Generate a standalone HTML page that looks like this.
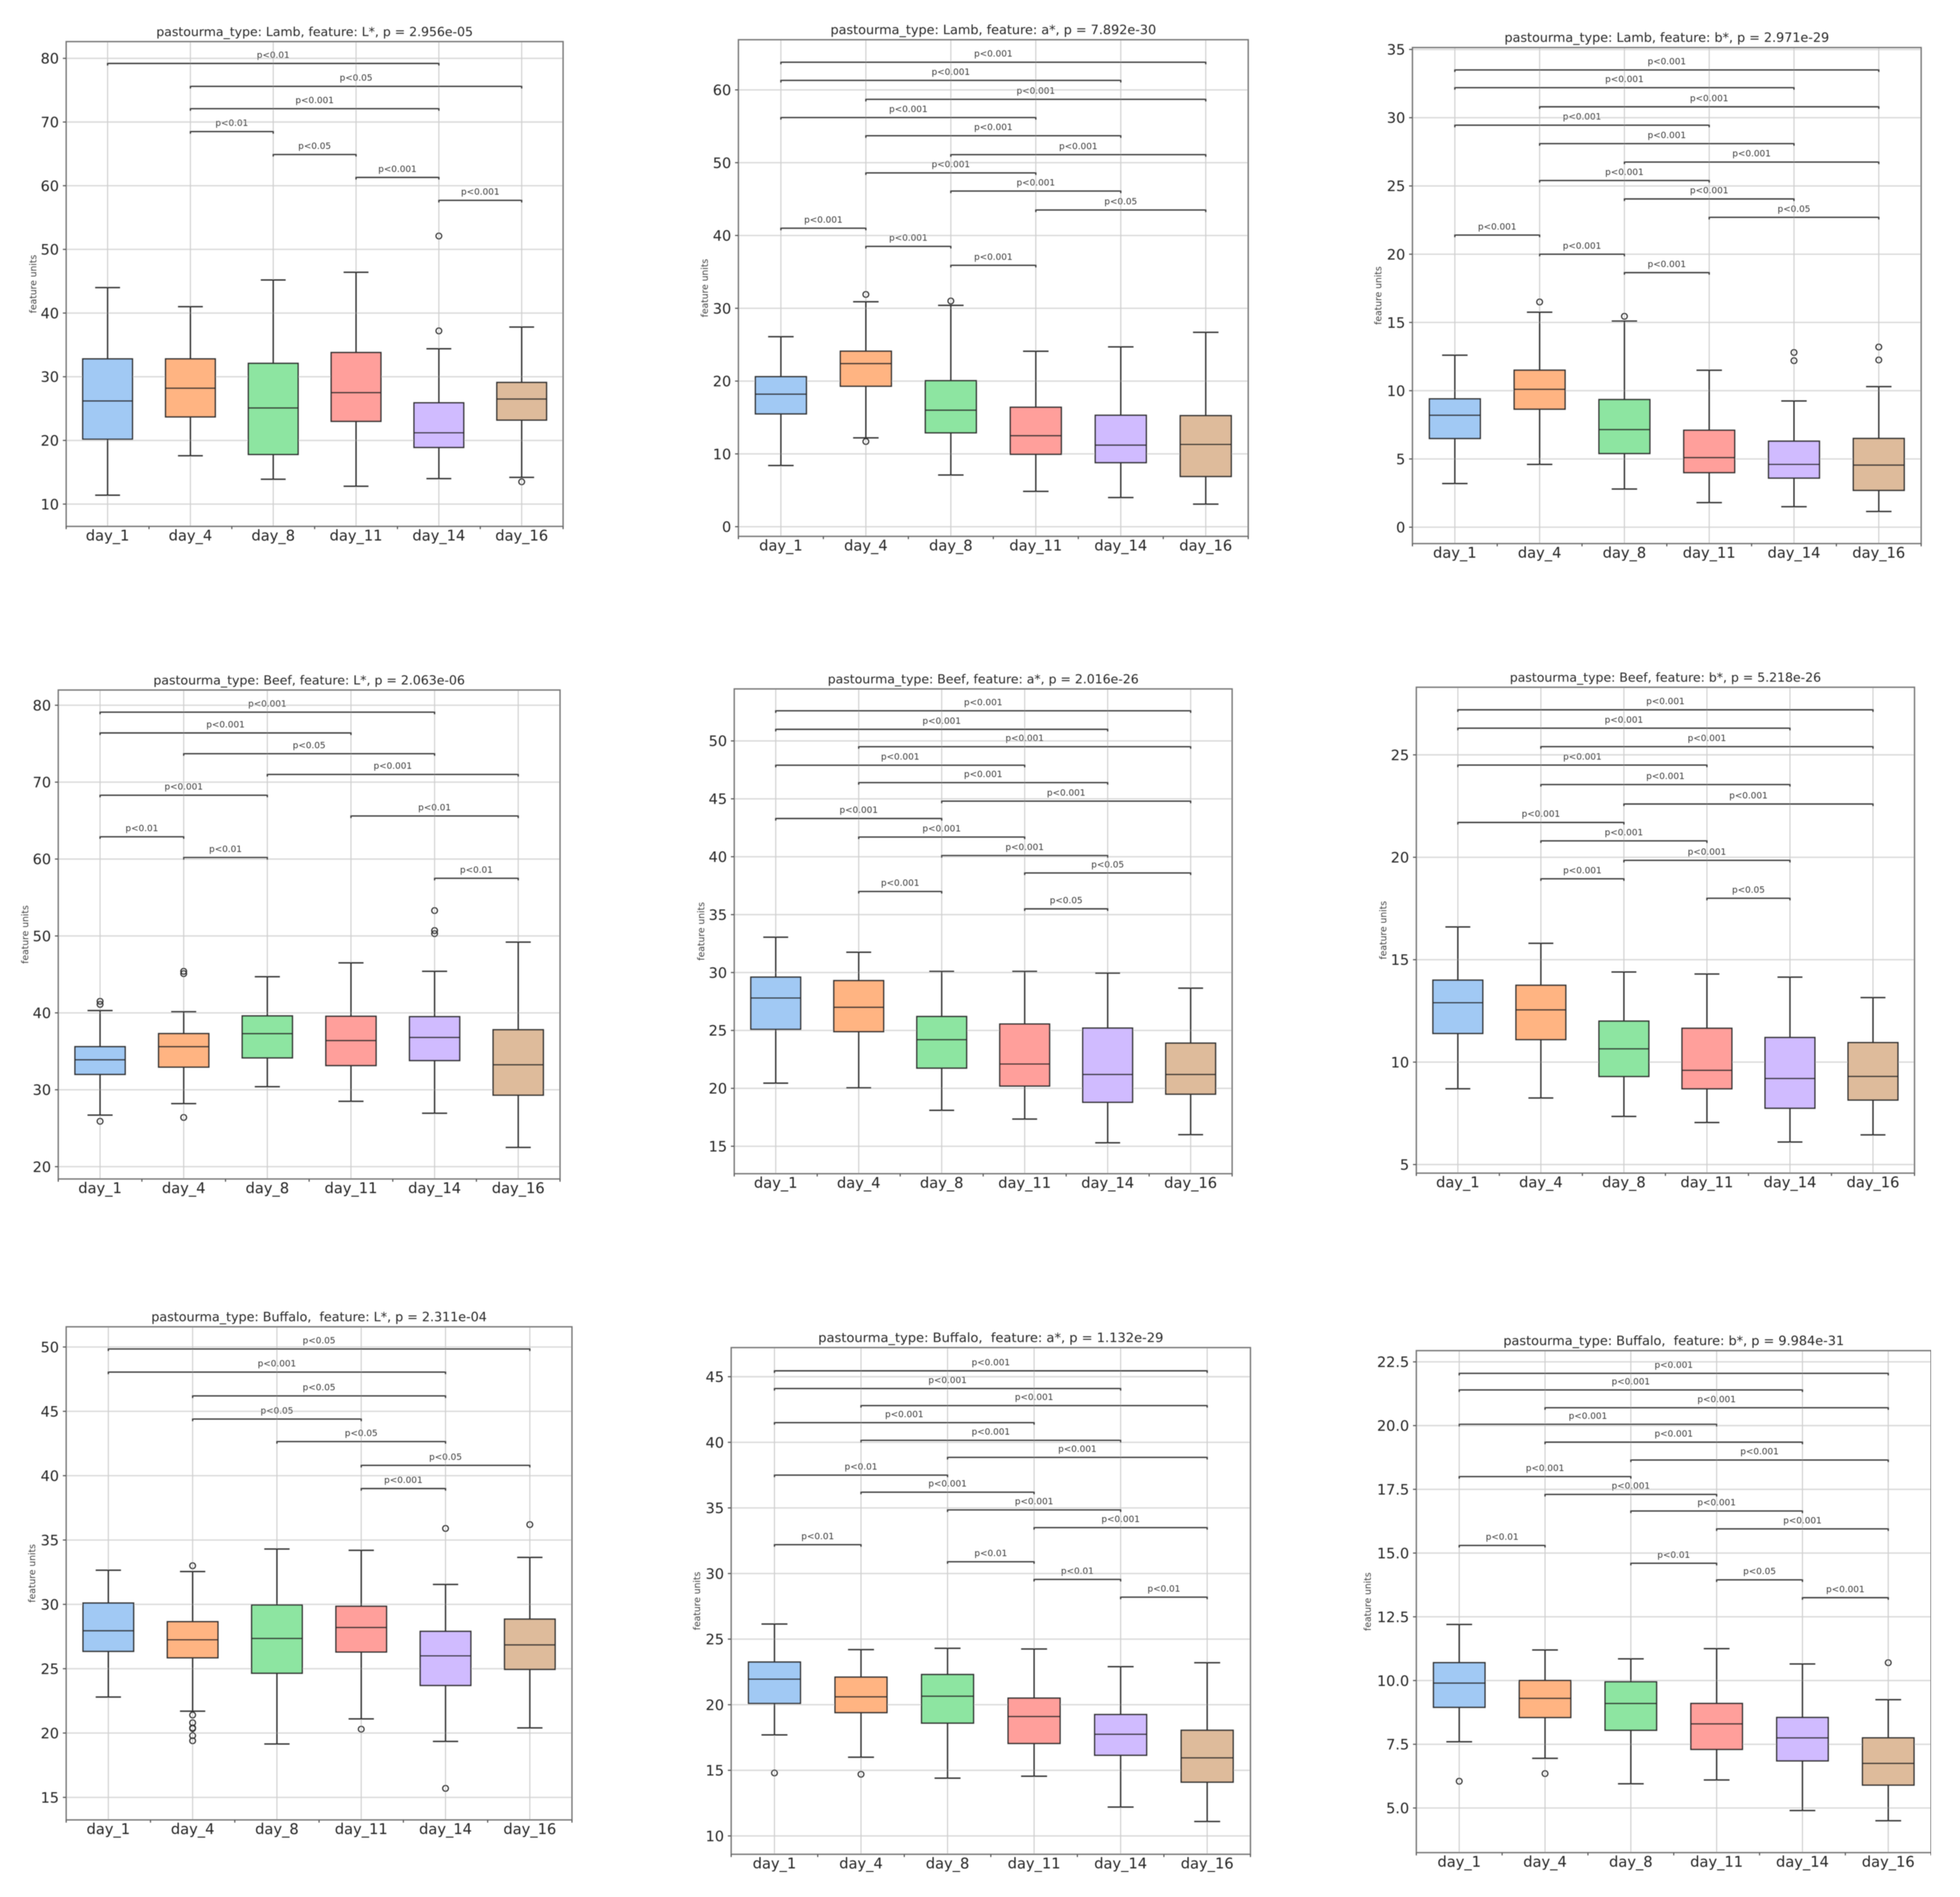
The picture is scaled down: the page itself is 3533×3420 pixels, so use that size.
<!DOCTYPE html>
<html lang="en">
<head>
<meta charset="utf-8">
<title>Pastourma colour features by day</title>
<style>
html,body{margin:0;padding:0;background:#fff;}
svg{display:block;}
text{font-family:"DejaVu Sans","Liberation Sans",sans-serif;}
</style>
</head>
<body>
<svg id="figure" xmlns="http://www.w3.org/2000/svg" width="3533" height="3420" viewBox="0 0 3533 3420">
<defs><filter id="soft" x="0" y="0" width="100%" height="100%"><feGaussianBlur stdDeviation="0.8"/></filter></defs>
<rect x="0" y="0" width="3533" height="3420" fill="#ffffff"/>
<g id="root" filter="url(#soft)"></g>
</svg>
<script>
const categories = ['day_1','day_4','day_8','day_11','day_14','day_16'];
const boxColors = ['#a1c9f4','#ffb482','#8de5a1','#ff9f9b','#d0bbff','#debb9b'];

// Lamb L*
const lambLTicks = ['10','20','30','40','50','60','70','80'];
const lambLLow = [11.4,17.6,13.9,12.8,14.0,14.2];
const lambLQ1 = [20.2,23.7,17.8,23.0,18.9,23.2];
const lambLMedian = [26.2,28.2,25.1,27.5,21.2,26.5];
const lambLQ3 = [32.8,32.8,32.1,33.8,25.9,29.1];
const lambLHigh = [44.0,41.0,45.2,46.4,34.4,37.8];
const lambLOutliers = [[],[],[],[],[37.2,52.1],[13.5]];
const lambLFrom = [0,1,1,1,2,3,4];
const lambLTo = [4,5,4,2,3,4,5];
const lambLLevels = [79.2,75.6,72.1,68.5,64.9,61.3,57.7];
const lambLSig = ['p<0.01','p<0.05','p<0.001','p<0.01','p<0.05','p<0.001','p<0.001'];

// Lamb a*
const lambATicks = ['0','10','20','30','40','50','60'];
const lambALow = [8.4,12.2,7.1,4.85,4.0,3.1];
const lambAQ1 = [15.5,19.3,12.9,9.95,8.8,6.9];
const lambAMedian = [18.2,22.4,16.0,12.5,11.2,11.3];
const lambAQ3 = [20.6,24.1,20.05,16.4,15.3,15.25];
const lambAHigh = [26.1,30.9,30.4,24.1,24.7,26.7];
const lambAOutliers = [[],[31.9,11.7],[31.0],[],[],[]];
const lambAFrom = [0,0,1,0,1,2,1,2,3,0,1,2];
const lambATo = [5,4,5,3,4,5,3,4,5,1,2,3];
const lambALevels = [63.8,61.3,58.7,56.2,53.7,51.1,48.6,46.1,43.5,41.0,38.5,35.9];
const lambASig = ['p<0.001','p<0.001','p<0.001','p<0.001','p<0.001','p<0.001','p<0.001','p<0.001','p<0.05','p<0.001','p<0.001','p<0.001'];

// Lamb b*
const lambBTicks = ['0','5','10','15','20','25','30','35'];
const lambBLow = [3.2,4.6,2.8,1.8,1.5,1.15];
const lambBQ1 = [6.5,8.65,5.4,4.0,3.6,2.7];
const lambBMedian = [8.2,10.1,7.15,5.1,4.6,4.55];
const lambBQ3 = [9.4,11.5,9.35,7.1,6.3,6.5];
const lambBHigh = [12.6,15.75,15.1,11.5,9.25,10.3];
const lambBOutliers = [[],[16.5],[15.45],[],[12.8,12.2],[13.2,12.25]];
const lambBFrom = [0,0,1,0,1,2,1,2,3,0,1,2];
const lambBTo = [5,4,5,3,4,5,3,4,5,1,2,3];
const lambBLevels = [33.5,32.2,30.8,29.45,28.1,26.75,25.4,24.05,22.7,21.4,20.0,18.65];
const lambBSig = ['p<0.001','p<0.001','p<0.001','p<0.001','p<0.001','p<0.001','p<0.001','p<0.001','p<0.05','p<0.001','p<0.001','p<0.001'];

// Beef L*
const beefLTicks = ['20','30','40','50','60','70','80'];
const beefLLow = [26.7,28.2,30.4,28.5,26.95,22.5];
const beefLQ1 = [32.0,32.95,34.15,33.15,33.8,29.3];
const beefLMedian = [33.9,35.6,37.3,36.4,36.8,33.25];
const beefLQ3 = [35.6,37.3,39.6,39.55,39.5,37.8];
const beefLHigh = [40.3,40.15,44.7,46.5,45.4,49.2];
const beefLOutliers = [[41.5,41.1,25.9],[45.4,45.1,26.4],[],[],[53.3,50.7,50.3],[]];
const beefLFrom = [0,0,1,2,0,3,0,1,4];
const beefLTo = [4,3,4,5,2,5,1,2,5];
const beefLLevels = [79.1,76.4,73.7,71.0,68.3,65.6,62.9,60.2,57.5];
const beefLSig = ['p<0.001','p<0.001','p<0.05','p<0.001','p<0.001','p<0.01','p<0.01','p<0.01','p<0.01'];

// Beef a*
const beefATicks = ['15','20','25','30','35','40','45','50'];
const beefALow = [20.45,20.05,18.1,17.35,15.3,16.0];
const beefAQ1 = [25.1,24.9,21.75,20.2,18.8,19.5];
const beefAMedian = [27.8,27.0,24.2,22.1,21.2,21.2];
const beefAQ3 = [29.6,29.3,26.2,25.55,25.2,23.9];
const beefAHigh = [33.05,31.75,30.1,30.1,29.95,28.65];
const beefAOutliers = [[],[],[],[],[],[]];
const beefAFrom = [0,0,1,0,1,2,0,1,2,3,1,3];
const beefATo = [5,4,5,3,4,5,2,3,4,5,2,4];
const beefALevels = [52.6,51.0,49.5,47.9,46.4,44.8,43.3,41.7,40.1,38.6,37.0,35.5];
const beefASig = ['p<0.001','p<0.001','p<0.001','p<0.001','p<0.001','p<0.001','p<0.001','p<0.001','p<0.001','p<0.05','p<0.001','p<0.05'];

// Beef b*
const beefBTicks = ['5','10','15','20','25'];
const beefBLow = [8.7,8.25,7.35,7.05,6.1,6.45];
const beefBQ1 = [11.4,11.1,9.3,8.7,7.75,8.15];
const beefBMedian = [12.9,12.55,10.65,9.6,9.2,9.3];
const beefBQ3 = [14.0,13.75,12.0,11.65,11.2,10.95];
const beefBHigh = [16.6,15.8,14.4,14.3,14.15,13.15];
const beefBOutliers = [[],[],[],[],[],[]];
const beefBFrom = [0,0,1,0,1,2,0,1,2,1,3];
const beefBTo = [5,4,5,3,4,5,2,3,4,2,4];
const beefBLevels = [27.2,26.3,25.4,24.5,23.55,22.6,21.7,20.8,19.85,18.95,18.0];
const beefBSig = ['p<0.001','p<0.001','p<0.001','p<0.001','p<0.001','p<0.001','p<0.001','p<0.001','p<0.001','p<0.001','p<0.05'];

// Buffalo L*
const buffaloLTicks = ['15','20','25','30','35','40','45','50'];
const buffaloLLow = [22.8,21.7,19.15,21.1,19.35,20.4];
const buffaloLQ1 = [26.35,25.85,24.65,26.3,23.7,24.95];
const buffaloLMedian = [27.95,27.25,27.35,28.2,26.0,26.85];
const buffaloLQ3 = [30.1,28.65,29.95,29.85,27.9,28.85];
const buffaloLHigh = [32.65,32.55,34.3,34.2,31.55,33.65];
const buffaloLOutliers = [[],[33.0,21.4,20.8,20.4,20.35,19.8,19.4],[],[20.3],[35.9,15.7],[36.2]];
const buffaloLFrom = [0,0,1,1,2,3,3];
const buffaloLTo = [5,4,4,3,4,5,4];
const buffaloLLevels = [49.85,48.05,46.2,44.4,42.65,40.8,39.0];
const buffaloLSig = ['p<0.05','p<0.001','p<0.05','p<0.05','p<0.05','p<0.05','p<0.001'];

// Buffalo a*
const buffaloATicks = ['10','15','20','25','30','35','40','45'];
const buffaloALow = [17.7,16.0,14.4,14.55,12.2,11.1];
const buffaloAQ1 = [20.1,19.4,18.6,17.05,16.15,14.1];
const buffaloAMedian = [21.95,20.6,20.65,19.1,17.75,15.95];
const buffaloAQ3 = [23.25,22.1,22.3,20.5,19.25,18.05];
const buffaloAHigh = [26.15,24.2,24.3,24.25,22.9,23.2];
const buffaloAOutliers = [[14.8],[14.7],[],[],[],[]];
const buffaloAFrom = [0,0,1,0,1,2,0,1,2,3,0,2,3,4];
const buffaloATo = [5,4,5,3,4,5,2,3,4,5,1,3,4,5];
const buffaloALevels = [45.45,44.1,42.8,41.5,40.15,38.85,37.5,36.2,34.85,33.5,32.2,30.9,29.55,28.2];
const buffaloASig = ['p<0.001','p<0.001','p<0.001','p<0.001','p<0.001','p<0.001','p<0.01','p<0.001','p<0.001','p<0.001','p<0.01','p<0.01','p<0.01','p<0.01'];

// Buffalo b*
const buffaloBTicks = ['5.0','7.5','10.0','12.5','15.0','17.5','20.0','22.5'];
const buffaloBLow = [7.6,6.95,5.95,6.1,4.9,4.5];
const buffaloBQ1 = [8.95,8.55,8.05,7.3,6.85,5.9];
const buffaloBMedian = [9.9,9.3,9.1,8.3,7.75,6.75];
const buffaloBQ3 = [10.7,10.0,9.95,9.1,8.55,7.75];
const buffaloBHigh = [12.2,11.2,10.85,11.25,10.65,9.25];
const buffaloBOutliers = [[6.05],[6.35],[],[],[],[10.7]];
const buffaloBFrom = [0,0,1,0,1,2,0,1,2,3,0,2,3,4];
const buffaloBTo = [5,4,5,3,4,5,2,3,4,5,1,3,4,5];
const buffaloBLevels = [22.05,21.4,20.7,20.05,19.35,18.65,18.0,17.3,16.65,15.95,15.3,14.6,13.95,13.25];
const buffaloBSig = ['p<0.001','p<0.001','p<0.001','p<0.001','p<0.001','p<0.001','p<0.001','p<0.001','p<0.001','p<0.001','p<0.01','p<0.01','p<0.05','p<0.001'];

const panels = [
 {id:'lamb-l',title:'pastourma_type: Lamb, feature: L*, p = 2.956e-05',fs:22.5,box:[119.3,1015,75,949],dom:[6.5,82.63],lab:-60,ticks:lambLTicks,low:lambLLow,q1:lambLQ1,med:lambLMedian,q3:lambLQ3,high:lambLHigh,out:lambLOutliers,from:lambLFrom,to:lambLTo,lev:lambLLevels,sig:lambLSig},
 {id:'lamb-a',title:'pastourma_type: Lamb, feature: a*, p = 7.892e-30',fs:23.1,box:[1331,2250,71.6,967],dom:[-1.33,66.89],lab:-61,ticks:lambATicks,low:lambALow,q1:lambAQ1,med:lambAMedian,q3:lambAQ3,high:lambAHigh,out:lambAOutliers,from:lambAFrom,to:lambATo,lev:lambALevels,sig:lambASig},
 {id:'lamb-b',title:'pastourma_type: Lamb, feature: b*, p = 2.971e-29',fs:23,box:[2546,3463,85.7,980],dom:[-1.2,35.14],lab:-62,ticks:lambBTicks,low:lambBLow,q1:lambBQ1,med:lambBMedian,q3:lambBQ3,high:lambBHigh,out:lambBOutliers,from:lambBFrom,to:lambBTo,lev:lambBLevels,sig:lambBSig},
 {id:'beef-l',title:'pastourma_type: Beef, feature: L*, p = 2.063e-06',fs:22.6,box:[105,1009.5,1244,2125.5],dom:[18.4,81.98],lab:-60,ticks:beefLTicks,low:beefLLow,q1:beefLQ1,med:beefLMedian,q3:beefLQ3,high:beefLHigh,out:beefLOutliers,from:beefLFrom,to:beefLTo,lev:beefLLevels,sig:beefLSig},
 {id:'beef-a',title:'pastourma_type: Beef, feature: a*, p = 2.016e-26',fs:22.5,box:[1323.5,2221,1242,2116],dom:[12.63,54.49],lab:-60,ticks:beefATicks,low:beefALow,q1:beefAQ1,med:beefAMedian,q3:beefAQ3,high:beefAHigh,out:beefAOutliers,from:beefAFrom,to:beefATo,lev:beefALevels,sig:beefASig},
 {id:'beef-b',title:'pastourma_type: Beef, feature: b*, p = 5.218e-26',fs:22.5,box:[2553,3451,1239,2115],dom:[4.58,28.3],lab:-60,ticks:beefBTicks,low:beefBLow,q1:beefBQ1,med:beefBMedian,q3:beefBQ3,high:beefBHigh,out:beefBOutliers,from:beefBFrom,to:beefBTo,lev:beefBLevels,sig:beefBSig},
 {id:'buffalo-l',title:'pastourma_type: Buffalo,  feature: L*, p = 2.311e-04',fs:22.9,box:[119.3,1031,2392,3281],dom:[13.25,51.57],lab:-62,ticks:buffaloLTicks,low:buffaloLLow,q1:buffaloLQ1,med:buffaloLMedian,q3:buffaloLQ3,high:buffaloLHigh,out:buffaloLOutliers,from:buffaloLFrom,to:buffaloLTo,lev:buffaloLLevels,sig:buffaloLSig},
 {id:'buffalo-a',title:'pastourma_type: Buffalo,  feature: a*, p = 1.132e-29',fs:23.5,box:[1318,2254,2429.5,3343],dom:[8.6,47.22],lab:-62,ticks:buffaloATicks,low:buffaloALow,q1:buffaloAQ1,med:buffaloAMedian,q3:buffaloAQ3,high:buffaloAHigh,out:buffaloAOutliers,from:buffaloAFrom,to:buffaloATo,lev:buffaloALevels,sig:buffaloASig},
 {id:'buffalo-b',title:'pastourma_type: Buffalo,  feature: b*, p = 9.984e-31',fs:23.2,box:[2553,3481,2435,3340],dom:[3.25,22.94],lab:-88,ticks:buffaloBTicks,low:buffaloBLow,q1:buffaloBQ1,med:buffaloBMedian,q3:buffaloBQ3,high:buffaloBHigh,out:buffaloBOutliers,from:buffaloBFrom,to:buffaloBTo,lev:buffaloBLevels,sig:buffaloBSig}
];

const NS = 'http://www.w3.org/2000/svg';
const root = document.getElementById('root');
function make(parent, tag, props, text) {
  const el = document.createElementNS(NS, tag);
  for (const k in props) el.setAttribute(k, props[k]);
  if (text !== undefined) el.textContent = text;
  parent.appendChild(el);
  return el;
}
const INK = '#303030';
const LW = 2.5;

panels.forEach(function (p) {
  const left = p.box[0], right = p.box[1], top = p.box[2], bottom = p.box[3];
  const band = (right - left) / categories.length;
  const xAt = function (i) { return left + (i + 0.5) * band; };
  const yAt = function (v) { return bottom - (v - p.dom[0]) / (p.dom[1] - p.dom[0]) * (bottom - top); };
  const halfBox = band * 0.3;
  const halfCap = band * 0.15;

  const g = make(root, 'g', {});
  
  

  // grid
  p.ticks.forEach(function (t) {
    const y = yAt(parseFloat(t));
    const line = make(g, 'line', {x1:left, x2:right, y1:y, y2:y, stroke:'#d9d9d9', 'stroke-width':2.4});
    
    
  });
  categories.forEach(function (c, i) {
    const line = make(g, 'line', {x1:xAt(i), x2:xAt(i), y1:top, y2:bottom, stroke:'#d0d0d0', 'stroke-width':2});
    
    
  });

  // boxes
  categories.forEach(function (c, i) {
    const x = xAt(i);
    const wLow = make(g, 'line', {x1:x, x2:x, y1:yAt(p.q1[i]), y2:yAt(p.low[i]), stroke:INK, 'stroke-width':LW});
    
    
    const wHigh = make(g, 'line', {x1:x, x2:x, y1:yAt(p.q3[i]), y2:yAt(p.high[i]), stroke:INK, 'stroke-width':LW});
    
    
    const capLow = make(g, 'line', {x1:x - halfCap, x2:x + halfCap, y1:yAt(p.low[i]), y2:yAt(p.low[i]), stroke:INK, 'stroke-width':LW});
    
    
    const capHigh = make(g, 'line', {x1:x - halfCap, x2:x + halfCap, y1:yAt(p.high[i]), y2:yAt(p.high[i]), stroke:INK, 'stroke-width':LW});
    
    
    const rect = make(g, 'rect', {x:x - halfBox, y:yAt(p.q3[i]), width:halfBox * 2, height:yAt(p.q1[i]) - yAt(p.q3[i]), fill:boxColors[i], stroke:INK, 'stroke-width':LW});
    
    
    const med = make(g, 'line', {x1:x - halfBox, x2:x + halfBox, y1:yAt(p.med[i]), y2:yAt(p.med[i]), stroke:INK, 'stroke-width':LW});
    
    
    p.out[i].forEach(function (v) {
      const dot = make(g, 'circle', {cx:x, cy:yAt(v), r:5.2, fill:'none', stroke:INK, 'stroke-width':2.1});
      
      
    });
  });

  // significance brackets
  p.lev.forEach(function (v, k) {
    const x1 = xAt(p.from[k]), x2 = xAt(p.to[k]), y = yAt(v);
    const br = make(g, 'polyline', {points:x1 + ',' + (y + 4) + ' ' + x1 + ',' + y + ' ' + x2 + ',' + y + ' ' + x2 + ',' + (y + 4), fill:'none', stroke:'#3a3a3a', 'stroke-width':2.4});
    
    
    const lab = make(g, 'text', {x:(x1 + x2) / 2, y:y - 10, 'text-anchor':'middle', 'font-size':16, fill:'#3c3c3c'}, p.sig[k]);
    
    
  });

  // spines
  const frame = make(g, 'rect', {x:left, y:top, width:right - left, height:bottom - top, fill:'none', stroke:'#757575', 'stroke-width':2.4});
  
  

  // y ticks and labels
  p.ticks.forEach(function (t) {
    const y = yAt(parseFloat(t));
    const tick = make(g, 'line', {x1:left - 6, x2:left, y1:y, y2:y, stroke:'#555555', 'stroke-width':2});
    
    
    const lab = make(g, 'text', {x:left - 13, y:y + 9.5, 'text-anchor':'end', 'font-size':26, fill:'#262626'}, t);
    
    
  });

  // x ticks (at band edges) and labels
  for (let i = 0; i <= categories.length; i++) {
    const tick = make(g, 'line', {x1:left + i * band, x2:left + i * band, y1:bottom, y2:bottom + 5, stroke:'#555555', 'stroke-width':2});
    
    
  }
  categories.forEach(function (c, i) {
    const lab = make(g, 'text', {x:xAt(i), y:bottom + 25.5, 'text-anchor':'middle', 'font-size':26.4, fill:'#262626'}, c);
    
    
  });

  // title and y label
  const title = make(g, 'text', {x:(left + right) / 2, y:top - 10, 'text-anchor':'middle', 'font-size':p.fs, fill:'#2a2a2a', style:'white-space:pre'}, p.title);
  
  
  const cy = (top + bottom) / 2;
  const ylab = make(g, 'text', {transform:'translate(' + (left + p.lab + 6) + ',' + cy + ') rotate(-90)', 'text-anchor':'middle', 'font-size':16.5, fill:'#444444'}, 'feature units');
  
  
});
</script>
</body>
</html>
